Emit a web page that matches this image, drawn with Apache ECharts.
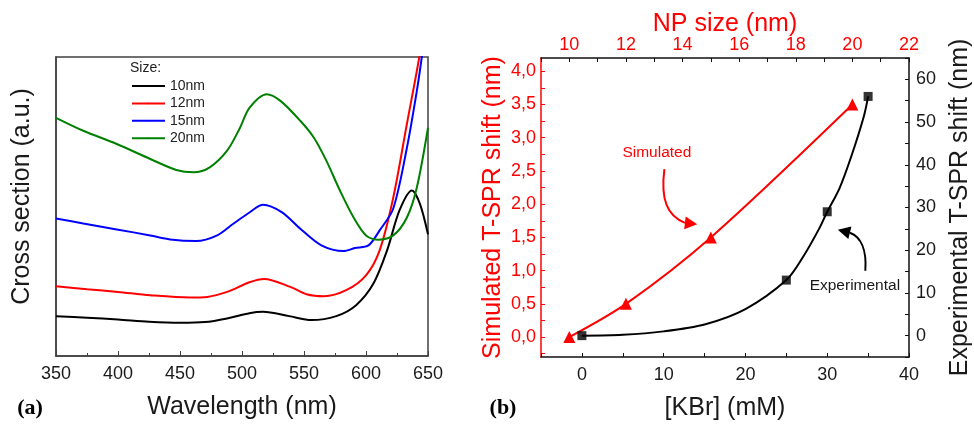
<!DOCTYPE html>
<html>
<head>
<meta charset="utf-8">
<title>T-SPR spectra and shift</title>
<script src="https://cdn.jsdelivr.net/npm/echarts@6/dist/echarts.min.js"></script>
<style>
  html, body { margin: 0; padding: 0; background: #fff; }
  #chart { width: 974px; height: 429px; }
</style>
</head>
<body>
<div id="chart"></div>
<script>
// ---- Panel (a): extinction cross section vs wavelength (arbitrary units) ----
const spec10nm = [[350,40],[375,38.5],[400,36.7],[425,34.4],[450,33.3],[470,34],[488,37.7],[506,43],[517,44.3],[538,40],[556,36],[576,40],[592,51],[606,72.7],[617,106],[627,146],[637,166],[643.5,152.7],[650,122]];
const spec12nm = [[350,70],[375,67],[400,64.3],[426,61],[458,58.7],[472,59.3],[488,64.3],[506,74],[518,77.3],[539,69.3],[552,62],[566,60],[584,66],[600,81],[611,106],[622,159],[633,233],[643,300],[647,335]];
const spec15nm = [[350,138],[372,133],[399,127],[426,121],[442,117],[463,115.3],[480,121],[493,132.7],[506,144],[517,151.7],[532,144.3],[547,127.7],[564,111],[582,105.3],[591,108.3],[602,111],[611,126],[622,148],[633,209],[641,266],[645,300],[648,330]];
const spec20nm = [[350,239],[372,226],[399,212.7],[426,197.7],[447,186.7],[461,184.3],[474,189.3],[488,206],[498,228],[506,249],[520,262.7],[531,256],[547,236],[558,219],[568,196],[579,166],[590,139],[600,121],[610,116.7],[622,121],[633,139],[641,169],[650,229]];
const sizeNames = ['10nm', '12nm', '15nm', '20nm'];

// ---- Panel (b): T-SPR shift ----
// simulated shift (nm) vs NP size (nm)
const simulatedShift = [[10,0],[12,0.5],[15,1.5],[20,3.5]];
// experimental shift (nm) vs [KBr] (mM)
const experimentalShift = [[0,0],[25,13],[30,29],[35,56]];
// fitted trend through the experimental points
const experimentalFit = [[0,0],[5,0.2],[10,1.0],[15,2.6],[20,6.2],[25,13],[27,18.3],[29,25],[30,29],[31.5,34.5],[33,42.3],[34.5,51.5],[35,56]];
// tick labels of the simulated-shift axis
const simTicks = [0,0.5,1,1.5,2,2.5,3,3.5,4];
const simMinorTicks = [-0.25,0,0.25,0.5,0.75,1,1.25,1.5,1.75,2,2.25,2.5,2.75,3,3.25,3.5,3.75,4];

const FONT = 'Liberation Sans';
const RED = '#ff0000';
const AXIS = '#404040';
const lineColors = ['#000000', '#ff0000', '#0000ff', '#008000'];

const chart = echarts.init(document.getElementById('chart'), null, { renderer: 'canvas' });

const tickStyle = (color, len) => ({ show: true, inside: true, length: len, lineStyle: { color: color, width: 1 } });
const lineStyle = (color) => ({ show: true, onZero: false, lineStyle: { color: color, width: 1.5 } });

const option = {
  animation: false,
  textStyle: { fontFamily: FONT },
  title: {
    text: 'Size:', left: 125, top: 56,
    textStyle: { fontSize: 14, fontWeight: 'normal', color: '#222', fontFamily: FONT }
  },
  legend: {
    orient: 'vertical', left: 126, top: 73,
    itemWidth: 33, itemHeight: 2, itemGap: 1.4,
    textStyle: { fontSize: 14, color: '#222', fontFamily: FONT, lineHeight: 16 },
    data: sizeNames
  },
  grid: [
    { left: 56, right: 546, top: 57, bottom: 73, show: true, borderColor: AXIS, borderWidth: 1.5, backgroundColor: 'transparent' },
    { left: 541, right: 63, top: 58, bottom: 72 }
  ],
  xAxis: [
    {
      gridIndex: 0, type: 'value', min: 350, max: 650, interval: 50,
      axisLine: lineStyle(AXIS), axisTick: tickStyle(AXIS, 5),
      minorTick: { show: true, splitNumber: 2, length: 3, lineStyle: { color: AXIS } },
      splitLine: { show: false },
      axisLabel: { fontSize: 18, color: '#1a1a1a', margin: 9, fontFamily: FONT },
      name: 'Wavelength (nm)', nameLocation: 'middle', nameGap: 39,
      nameTextStyle: { fontSize: 25, color: '#1a1a1a', fontFamily: FONT }
    },
    {
      gridIndex: 1, type: 'value', position: 'bottom', min: -5, max: 40, interval: 5,
      axisLine: lineStyle('#111'), axisTick: tickStyle('#111', 4),
      splitLine: { show: false },
      axisLabel: { fontSize: 18, color: '#1a1a1a', margin: 9, fontFamily: FONT,
        formatter: v => (v % 10 === 0 ? String(v) : '') },
      name: '[KBr] (mM)', nameLocation: 'middle', nameGap: 39,
      nameTextStyle: { fontSize: 25, color: '#1a1a1a', fontFamily: FONT }
    },
    {
      gridIndex: 1, type: 'value', position: 'top', min: 9, max: 22, interval: 1,
      axisLine: lineStyle('#111'), axisTick: tickStyle('#111', 4),
      splitLine: { show: false },
      axisLabel: { fontSize: 18, color: RED, margin: 4, fontFamily: FONT,
        formatter: v => (v % 2 === 0 ? String(v) : '') },
      name: 'NP size (nm)', nameLocation: 'middle', nameGap: 21, nameMoveOverlap: false,
      nameTextStyle: { fontSize: 25, color: RED, fontFamily: FONT }
    }
  ],
  yAxis: [
    {
      gridIndex: 0, type: 'value', min: 0, max: 300,
      axisLine: lineStyle(AXIS), axisTick: { show: false },
      axisLabel: { show: false }, splitLine: { show: false },
      name: 'Cross section (a.u.)', nameLocation: 'middle', nameGap: 21, nameRotate: 90,
      nameTextStyle: { fontSize: 25, color: '#1a1a1a', fontFamily: FONT, padding: [0, 0, 0, 20] }
    },
    {
      gridIndex: 1, type: 'value', position: 'left', min: -0.3, max: 4.2,
      axisLine: lineStyle(RED),
      axisTick: Object.assign(tickStyle(RED, 4), { customValues: simMinorTicks }),
      splitLine: { show: false },
      axisLabel: { fontSize: 18, color: RED, margin: 5, fontFamily: FONT, customValues: simTicks,
        formatter: v => v.toFixed(1).replace('.', ',') },
      name: 'Simulated T-SPR shift (nm)', nameLocation: 'middle', nameGap: 35, nameRotate: 90,
      nameTextStyle: { fontSize: 25, color: RED, fontFamily: FONT }
    },
    {
      gridIndex: 1, type: 'value', position: 'right', min: -5, max: 65, interval: 5,
      axisLine: lineStyle('#111'), axisTick: tickStyle('#111', 4),
      splitLine: { show: false },
      axisLabel: { fontSize: 18, color: '#1a1a1a', margin: 7, fontFamily: FONT,
        formatter: v => (v % 10 === 0 ? String(v) : '') },
      name: 'Experimental T-SPR shift (nm)', nameLocation: 'middle', nameGap: 39, nameRotate: 90,
      nameTextStyle: { fontSize: 25, color: '#1a1a1a', fontFamily: FONT }
    }
  ],
  series: [
    ...[spec10nm, spec12nm, spec15nm, spec20nm].map((d, i) => ({
      name: sizeNames[i], type: 'line', xAxisIndex: 0, yAxisIndex: 0,
      data: d, smooth: 0.3, symbol: 'none', clip: true, legendIcon: 'rect',
      lineStyle: { color: lineColors[i], width: 2 }, itemStyle: { color: lineColors[i] }
    })),
    {
      name: 'Simulated', type: 'line', xAxisIndex: 2, yAxisIndex: 1,
      data: simulatedShift, smooth: 0.3, symbol: 'triangle', symbolSize: 12,
      lineStyle: { color: RED, width: 2 }, itemStyle: { color: RED }, z: 3
    },
    {
      name: 'Experimental fit', type: 'line', xAxisIndex: 1, yAxisIndex: 2,
      data: experimentalFit, smooth: 0.3, symbol: 'none',
      lineStyle: { color: '#000', width: 2 }, z: 2
    },
    {
      name: 'Experimental', type: 'scatter', xAxisIndex: 1, yAxisIndex: 2,
      data: experimentalShift, symbol: 'rect', symbolSize: 9,
      itemStyle: { color: '#000' }, z: 4
    }
  ]
};
chart.setOption(option);

// ---- annotations: labels and curved arrows, anchored in [KBr] / experimental-shift units ----
const EXP_SERIES = 6;
const toPx = d => chart.convertToPixel({ seriesIndex: EXP_SERIES }, d);

function curvedArrow(anchors, color) {
  const [p0, p1, p2, p3, tip] = anchors.map(toPx);
  const dx = tip[0] - p3[0], dy = tip[1] - p3[1];
  const len = Math.hypot(dx, dy);
  const nx = -dy / len * 6.5, ny = dx / len * 6.5;
  return [
    {
      type: 'bezierCurve', silent: true, z: 10,
      shape: { x1: p0[0], y1: p0[1], cpx1: p1[0], cpy1: p1[1], cpx2: p2[0], cpy2: p2[1], x2: p3[0], y2: p3[1] },
      style: { stroke: color, lineWidth: 2, fill: null }
    },
    {
      type: 'polygon', silent: true, z: 10,
      shape: { points: [tip, [p3[0] + nx, p3[1] + ny], [p3[0] - nx, p3[1] - ny]] },
      style: { fill: color }
    }
  ];
}

function noteText(text, at, color) {
  const p = toPx(at);
  return {
    type: 'text', silent: true, z: 10, x: p[0], y: p[1],
    style: { text: text, fill: color, font: '15.5px "' + FONT + '"', align: 'center', verticalAlign: 'middle' }
  };
}

const simArrow = [[10.09, 39.0], [9.6, 31.8], [10.45, 28.05], [12.6, 26.4], [14.1, 26.06]];
const expArrow = [[34.66, 15.19], [34.84, 20.1], [34.11, 23.14], [32.77, 24.08], [31.3, 24.78]];

chart.setOption({
  graphic: [
    ...curvedArrow(simArrow, RED),
    ...curvedArrow(expArrow, '#000'),
    noteText('Simulated', [9.17, 42.85], RED),
    noteText('Experimental', [33.38, 11.69], '#1a1a1a'),
    {
      type: 'text', silent: true, x: 30, y: 408,
      style: { text: '(a)', fill: '#000', font: 'bold 22px "Liberation Serif"', align: 'center', verticalAlign: 'middle' }
    },
    {
      type: 'text', silent: true, x: 503, y: 408,
      style: { text: '(b)', fill: '#000', font: 'bold 22px "Liberation Serif"', align: 'center', verticalAlign: 'middle' }
    }
  ]
});
</script>
</body>
</html>
